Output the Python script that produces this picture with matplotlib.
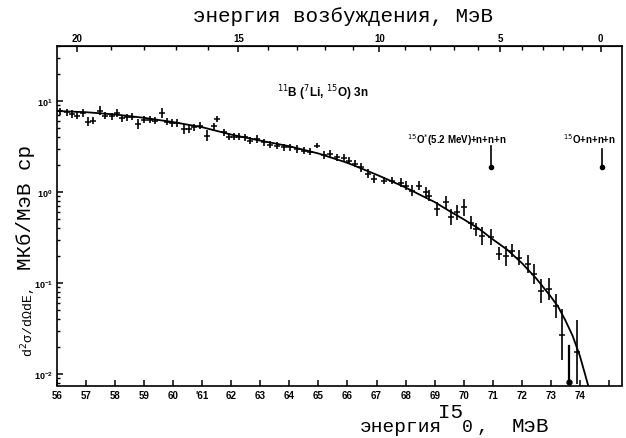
import numpy as np
import matplotlib
matplotlib.use("Agg")
import matplotlib.pyplot as plt
from matplotlib.ticker import FixedLocator, NullFormatter, LogLocator, FixedFormatter

# ---- data ----
x_data = [56.10, 56.33, 56.50, 56.68, 56.91, 57.08, 57.25, 57.48, 57.66, 57.89,
          58.06, 58.23, 58.40, 58.58, 58.80, 58.98, 59.21, 59.38, 59.61, 59.78,
          59.95, 60.13, 60.36, 60.53, 60.70, 60.93, 61.16, 61.39, 61.51, 61.74,
          61.91, 62.08, 62.25, 62.48, 62.66, 62.89, 63.11, 63.34, 63.57, 63.80,
          64.03, 64.26, 64.49, 64.72, 64.95, 65.18, 65.41, 65.64, 65.87, 66.04,
          66.27, 66.48, 66.70, 66.91, 67.25, 67.54, 67.83, 68.00, 68.23, 68.46,
          68.69, 68.80, 69.09, 69.38, 69.55, 69.78, 70.01, 70.24, 70.41, 70.64,
          70.93, 71.22, 71.45, 71.68, 71.91, 72.20, 72.42, 72.66, 72.94, 73.17,
          73.40, 73.90]
y_data = [7.71, 7.52, 7.19, 6.92, 7.38, 5.93, 6.08, 7.83, 6.92, 6.79,
          7.38, 6.46, 6.61, 6.73, 5.58, 6.24, 6.24, 6.08, 7.38, 5.93,
          5.73, 5.73, 4.92, 4.92, 5.13, 5.37, 4.17, 5.25, 6.31, 4.53,
          4.07, 4.07, 4.07, 3.98, 3.66, 3.82, 3.52, 3.31, 3.24, 3.09,
          3.09, 2.97, 2.84, 2.77, 3.24, 2.55, 2.62, 2.40, 2.37, 2.21,
          2.04, 1.86, 1.58, 1.39, 1.33, 1.33, 1.26, 1.17, 1.03, 1.17,
          0.99, 0.91, 0.65, 0.77, 0.53, 0.60, 0.68, 0.46, 0.39, 0.33,
          0.32, 0.21, 0.20, 0.226, 0.19, 0.162, 0.126, 0.082, 0.086, 0.056,
          0.027, 0.0174]
# half length of each error bar, in decades
err_dec = [0.04, 0.04, 0.04, 0.04, 0.04, 0.05, 0.04, 0.05, 0.04, 0.04,
           0.04, 0.04, 0.04, 0.04, 0.05, 0.04, 0.04, 0.04, 0.05, 0.04,
           0.04, 0.04, 0.05, 0.04, 0.04, 0.04, 0.06, 0.04, 0.03, 0.04,
           0.04, 0.04, 0.04, 0.04, 0.04, 0.04, 0.04, 0.04, 0.04, 0.04,
           0.04, 0.04, 0.04, 0.04, 0.03, 0.04, 0.04, 0.04, 0.04, 0.04,
           0.04, 0.05, 0.05, 0.04, 0.04, 0.04, 0.05, 0.05, 0.06, 0.05,
           0.06, 0.06, 0.073, 0.073, 0.092, 0.082, 0.092, 0.073, 0.073, 0.10,
           0.092, 0.073, 0.11, 0.073, 0.082, 0.10, 0.11, 0.128, 0.12, 0.128,
           0.28, 0.35]

# upper-limit point (bar ending with a dot)
lim_x = 73.63
lim_top = 0.0204
lim_bottom = 0.0081

# fitted curve
x_fit = [56, 57, 58, 59, 60, 61, 62, 63, 64, 65, 66, 66.5, 67, 67.5, 68, 68.5,
         69, 69.5, 70, 70.5, 71, 71.5, 72, 72.5, 73, 73.25, 73.5, 73.75, 74,
         74.15, 74.3]
y_fit = [7.76, 7.53, 7.11, 6.53, 5.86, 5.15, 4.27, 3.67, 3.18, 2.65, 2.09, 1.80,
         1.55, 1.32, 1.12, 0.93, 0.776, 0.62, 0.501, 0.40, 0.302, 0.232, 0.166,
         0.112, 0.0708, 0.0550, 0.0389, 0.0263, 0.0158, 0.0107, 0.0072]

x_ticks = list(range(56, 76))
x_ticklabels = [str(v) for v in x_ticks]
x_ticklabels[5] = "'61"
x_ticklabels[-1] = ""
ex_major = [0, 5, 10, 15, 20]
ex_minor = list(range(0, 21))

# threshold markers
thr_x = [70.93, 74.76]
thr_top = [3.24, 2.97]
thr_dot = [1.88, 1.88]
thr_labels = [r"$^{15}$O$^{*}$(5.2 MeV)+n+n+n", r"$^{15}$O+n+n+n"]
thr_label_x = [407, 563]

# conversion bottom energy (MeV) <-> excitation energy (MeV)
A0, B1, C2 = 74.72, 0.6225, 0.01395
def e_to_ex(e):
    e = np.asarray(e, dtype=float)
    d = np.maximum(B1 ** 2 + 4 * C2 * (A0 - e), 1e-9)
    return (-B1 + np.sqrt(d)) / (2 * C2)
def ex_to_e(ex):
    ex = np.asarray(ex, dtype=float)
    return A0 - B1 * ex - C2 * ex ** 2

W, H = 626, 439
fig = plt.figure(figsize=(W / 100, H / 100), dpi=100)
ax = fig.add_axes([57 / W, 1 - 386.5 / H, (622 - 57) / W, (386.5 - 47) / H])
ax.set_yscale('log')
ax.set_xlim(56, 75.45)
ax.set_ylim(0.00748, 40.2)

xd = np.array(x_data); yd = np.array(y_data); ed = np.array(err_dec)
lo = yd - yd / 10 ** ed
hi = yd * 10 ** ed - yd
ax.errorbar(xd, yd, yerr=[lo, hi], fmt='_', color='black', ms=4, mew=1.1,
            elinewidth=1.2, capsize=0)
ax.plot([lim_x, lim_x], [lim_top, lim_bottom], color='black', lw=1.6)
ax.plot([lim_x], [lim_bottom], 'o', color='black', ms=3.5)

ax.plot(x_fit, y_fit, color='black', lw=1.3)

for tx, tt, td in zip(thr_x, thr_top, thr_dot):
    ax.plot([tx, tx], [tt, td], color='black', lw=1.2)
    ax.plot([tx], [td], 'o', color='black', ms=3)

tfont = dict(family='Liberation Sans', weight='bold', size=7)
for lab, lx in zip(thr_labels, thr_label_x):
    fig.text(lx / W, 1 - 144 / H, lab, ha='left', va='baseline', **tfont)
fig.text(277 / W, 1 - 97 / H, r"$^{11}$B ($^{7}$Li, $^{15}$O) 3n",
         ha='left', va='baseline', family='Liberation Sans', weight='bold', size=8.5)

# ticks
ax.xaxis.set_major_locator(FixedLocator(x_ticks))
ax.xaxis.set_major_formatter(FixedFormatter(x_ticklabels))
ax.xaxis.set_minor_locator(FixedLocator([]))
ax.yaxis.set_major_locator(LogLocator(base=10, numticks=10))
ax.yaxis.set_minor_locator(LogLocator(base=10, subs=(2, 3, 4, 5, 6, 7, 8, 9), numticks=20))
ax.yaxis.set_minor_formatter(NullFormatter())
ax.tick_params(axis='both', which='major', direction='in', length=4, width=1.1,
               labelsize=7)
ax.tick_params(axis='y', which='minor', direction='in', length=2.5, width=1)
ax.tick_params(axis='x', which='major', pad=3)
ax.tick_params(axis='y', which='major', pad=3, labelsize=6.5)
for lab in ax.get_xticklabels() + ax.get_yticklabels():
    lab.set_fontfamily('Liberation Sans')
    lab.set_fontweight('bold')

sec = ax.secondary_xaxis('top', functions=(e_to_ex, ex_to_e))
sec.xaxis.set_major_locator(FixedLocator(ex_major))
sec.xaxis.set_minor_locator(FixedLocator(ex_minor))
sec.tick_params(axis='x', which='major', direction='in', length=4, width=1.1,
                labelsize=7, pad=2)
sec.tick_params(axis='x', which='minor', direction='in', length=3, width=1)
for lab in sec.get_xticklabels():
    lab.set_fontfamily('Liberation Sans')
    lab.set_fontweight('bold')

for sp in list(ax.spines.values()):
    sp.set_linewidth(1.2)

mono = 'Liberation Mono'
fig.text(343 / W, 1 - 22 / H, "энергия возбуждения, МэВ", ha='center',
         va='baseline', family=mono, size=15)
fig.text(360 / W, 1 - 432 / H, "энергия", ha='left', va='baseline', family=mono, size=14)
fig.text(438 / W, 1 - 418 / H, "I5", ha='left', va='baseline', family=mono, size=15)
fig.text(462 / W, 1 - 432 / H, "0", ha='left', va='baseline', family=mono, size=13)
fig.text(477 / W, 1 - 432 / H, ",", ha='left', va='baseline', family=mono, size=14)
fig.text(512 / W, 1 - 432 / H, "МэВ", ha='left', va='baseline', family=mono, size=15)
fig.text(33 / W, 1 - 323 / H, "d$^2$σ/dΩdE,", rotation=90, rotation_mode='anchor',
         ha='center', va='baseline', family=mono, size=9.5)
fig.text(31 / W, 1 - 208 / H, "МКб/МэВ ср", rotation=90, rotation_mode='anchor',
         ha='center', va='baseline', family=mono, size=15)

fig.savefig("out.png", dpi=100)
